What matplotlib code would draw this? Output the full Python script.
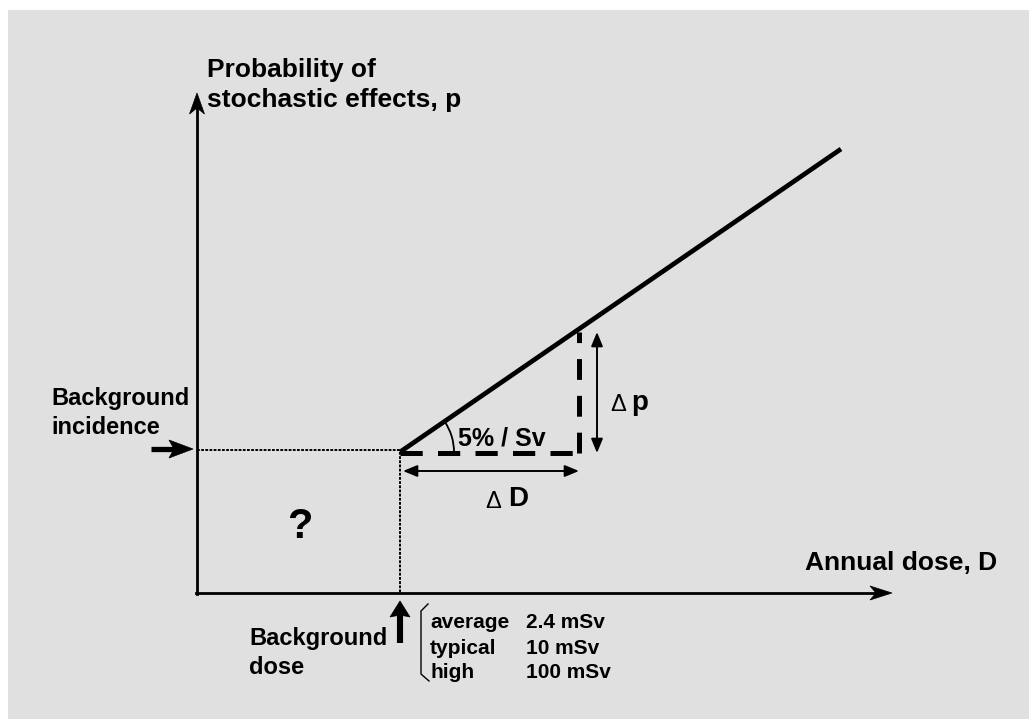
import matplotlib
matplotlib.use('Agg')
import matplotlib.pyplot as plt
from matplotlib.patches import Rectangle, Arc, FancyArrowPatch, Polygon
import numpy as np

plt.rcParams['font.family'] = ['Liberation Sans', 'DejaVu Sans']
plt.rcParams['lines.scale_dashes'] = False

# diagram coordinates (canvas pixels, y downwards)
origin = (197, 593)
axis_x_end = 892
axis_y_end = 93
bg_dose = 400          # background dose position on the dose axis
bg_prob = 452          # background incidence level
line_end = (841, 149)  # end of the linear dose-response line
step_dose = 579        # end of the delta D step

levels = ['average', 'typical', 'high']
level_values = ['2.4 mSv', '10 mSv', '100 mSv']

BG = '#e0e0e0'

fig = plt.figure(figsize=(10.29, 7.19), dpi=100)
ax = fig.add_axes([0, 0, 1, 1])
ax.set_xlim(0, 1029)
ax.set_ylim(719, 0)
ax.axis('off')

ax.add_patch(Rectangle((8, 10), 1030, 720, facecolor=BG, edgecolor='none'))


def arrow(p0, p1, style, lw=2.0, scale=10):
    a = FancyArrowPatch(p0, p1, arrowstyle=style, mutation_scale=scale,
                        lw=lw, color='k', shrinkA=0, shrinkB=0)
    ax.add_patch(a)


def stealth(tip, direction, length=22, half_width=7.5, notch=6):
    d = np.array(direction, float)
    d /= np.hypot(*d)
    n = np.array([-d[1], d[0]])
    t = np.array(tip, float)
    back = t - d * length
    pts = [t, back + n * half_width, t - d * (length - notch), back - n * half_width]
    ax.add_patch(Polygon(pts, closed=True, facecolor='k', edgecolor='k', lw=0.5))


# axes
ax.plot([origin[0], origin[0]], [origin[1] + 1, axis_y_end + 12], color='k', lw=2.0)
ax.plot([origin[0] - 1, axis_x_end - 12], [origin[1], origin[1]], color='k', lw=2.0)
stealth((origin[0], axis_y_end), (0, -1), length=21, half_width=7.5)
stealth((axis_x_end, origin[1]), (1, 0), length=22, half_width=7.0)

# dotted guides
ax.plot([origin[0], bg_dose], [bg_prob - 2, bg_prob - 2], color='k', lw=1.4,
        linestyle=(0, (2.0, 1.0)))
ax.plot([bg_dose, bg_dose], [bg_prob, origin[1]], color='k', lw=1.4,
        linestyle=(0, (2.0, 1.0)))

# linear response line
ax.plot([bg_dose, line_end[0]], [bg_prob, line_end[1]], color='k', lw=3.4,
        solid_capstyle='butt')

# dashed step
slope = (line_end[1] - bg_prob) / (line_end[0] - bg_dose)
step_top = bg_prob + slope * (step_dose - bg_dose)
ax.plot([bg_dose, step_dose - 6], [bg_prob + 1, bg_prob + 1], color='k', lw=3.6,
        linestyle=(0, (16, 11)), solid_capstyle='butt', dash_capstyle='butt')
ax.plot([step_dose, step_dose], [bg_prob + 1, step_top + 3], color='k', lw=3.6,
        linestyle=(0, (15, 11.5)), dash_capstyle='butt')

# angle arc
ang = np.degrees(np.arctan2(line_end[1] - bg_prob, line_end[0] - bg_dose))
ax.add_patch(Arc((bg_dose, bg_prob), 108, 108, theta1=ang, theta2=0,
                 color='k', lw=1.3))
ax.text(458, 438, '5% / Sv', fontsize=18, fontweight='bold', ha='left', va='center')

# delta arrows
arrow((bg_dose + 3, 471), (step_dose, 471), '<|-|>,head_length=0.85,head_width=0.35', lw=1.4)
arrow((597, step_top + 3), (597, bg_prob + 1), '<|-|>,head_length=0.85,head_width=0.35', lw=1.4)

ax.text(610, 405, '\u0394', fontsize=17, ha='left', va='center')
ax.text(631, 403, 'p', fontsize=20, fontweight='bold', ha='left', va='center')
ax.text(485, 502, '\u0394', fontsize=17, ha='left', va='center')
ax.text(508, 499, 'D', fontsize=20, fontweight='bold', ha='left', va='center')

ax.text(300, 527, '?', fontsize=30, fontweight='bold', ha='center', va='center')

# axis labels
ax.text(207, 70, 'Probability of', fontsize=19, fontweight='bold', ha='left', va='center')
ax.text(207, 100, 'stochastic effects, p', fontsize=19, fontweight='bold', ha='left', va='center')
ax.text(997, 563, 'Annual dose, D', fontsize=19, fontweight='bold', ha='right', va='center')

# background incidence
ax.text(51, 398, 'Background', fontsize=17, fontweight='bold', ha='left', va='center')
ax.text(51, 427, 'incidence', fontsize=17, fontweight='bold', ha='left', va='center')
ax.plot([151, 175], [449, 449], color='k', lw=3.8, solid_capstyle='butt')
stealth((193, 449), (1, 0), length=24, half_width=9, notch=5)

# background dose
ax.text(249, 639, 'Background', fontsize=17, fontweight='bold', ha='left', va='center')
ax.text(249, 668, 'dose', fontsize=17, fontweight='bold', ha='left', va='center')
ax.plot([400, 400], [643, 612], color='k', lw=4.4, solid_capstyle='butt')
stealth((400, 601), (0, -1), length=16, half_width=10, notch=2)

# bracket with dose levels
ax.plot([428, 421, 421, 429], [604, 611, 674, 681], color='k', lw=1.0)
for i, (lab, val) in enumerate(zip(levels, level_values)):
    y = 623 + 25 * i
    ax.text(430, y, lab, fontsize=15, fontweight='bold', ha='left', va='center')
    ax.text(526, y, val, fontsize=15, fontweight='bold', ha='left', va='center')

fig.savefig('out.png', dpi=100, facecolor='white')
